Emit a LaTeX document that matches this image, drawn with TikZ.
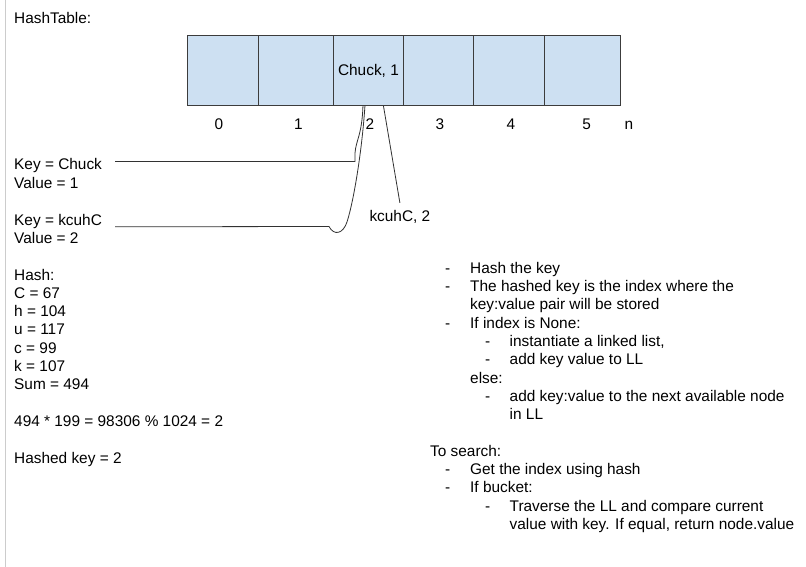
\documentclass[tikz,border=0pt]{standalone}
\usepackage{fontspec}
\setmainfont{Liberation Sans}
\definecolor{cellfill}{RGB}{205,224,242}
\definecolor{cellline}{RGB}{60,60,60}
\definecolor{linkcol}{RGB}{50,50,50}
\begin{document}
\begin{tikzpicture}[x=1pt,y=-1pt,
  every node/.style={font=\fontsize{15.4}{18.4}\selectfont, inner sep=0pt},
  txt/.style={anchor=base west},
  ctr/.style={anchor=base},
  cell/.style={draw=cellline, fill=cellfill, minimum height=70pt, anchor=north west, line width=0.9pt},
  link/.style={draw=linkcol, line width=0.8pt}]
\useasboundingbox (0,0) rectangle (806,567);
\fill[white] (0,0) rectangle (806,567);
\draw[gray!40, line width=1pt] (5.5,0) -- (5.5,567);

% title
\node[txt] (title) at (14,24) {HashTable:};

% table cells
\node[cell, minimum width=71pt] (c0) at (187,35) {};
\node[cell, minimum width=75pt] (c1) at (258,35) {};
\node[cell, minimum width=70pt] (c2) at (333,35) {Chuck, 1};
\node[cell, minimum width=70pt] (c3) at (403,35) {};
\node[cell, minimum width=71pt] (c4) at (473,35) {};
\node[cell, minimum width=76pt] (c5) at (544,35) {};

% indices
\node[ctr] (i0) at (219,130) {0};
\node[ctr] (i1) at (298.3,130) {1};
\node[ctr] (i2) at (370,130) {2};
\node[ctr] (i3) at (440,130) {3};
\node[ctr] (i4) at (511,130) {4};
\node[ctr] (i5) at (586.7,130) {5};
\node[ctr] (in) at (629,130) {n};

% key/value texts
\node[txt] (k1) at (14,170) {Key = Chuck};
\node[txt] (v1) at (14,188.3) {Value = 1};
\node[txt] (k2) at (14,225.2) {Key = kcuhC};
\node[txt] (v2) at (14,243.5) {Value = 2};
\node[txt] (lbl2) at (369.3,221.7) {kcuhC, 2};

% connectors
\coordinate (s1) at (115,161.5);
\coordinate (s2) at (115,226.8);
\draw[link] (s1) -- (355,161.5) -- (355,153) .. controls (356,140) and (362,135) .. ([xshift=-5.5pt]c2.south);
\draw[link] (s2) -- (329,226.5) .. controls (334,236) and (343,234) .. (347,222) .. controls (354,200) and (362,150) .. ([xshift=-3.5pt]c2.south);
\draw[link] ([xshift=15pt]c2.south) -- ([yshift=7.5pt]lbl2.north);

% hash block
\node[txt] (h0) at (14,280) {Hash:};
\node[txt] (h1) at (14,298.3) {C = 67};
\node[txt] (h2) at (14,316.6) {h = 104};
\node[txt] (h3) at (14,334.9) {u = 117};
\node[txt] (h4) at (14,353.2) {c = 99};
\node[txt] (h5) at (14,371.5) {k = 107};
\node[txt] (h6) at (14,389.8) {Sum = 494};
\node[txt] (h7) at (14,426.4) {494 * 199 = 98306 \% 1024 = 2};
\node[txt] (h8) at (14,463) {Hashed key = 2};

% right block
\node[txt] (d1) at (445,273.3) {-};
\node[txt] (r1) at (470,273.3) {Hash the key};
\node[txt] (d2) at (445,291.6) {-};
\node[txt] (r2) at (470,291.6) {The hashed key is the index where the};
\node[txt] (r3) at (470,309.9) {key:value pair will be stored};
\node[txt] (d3) at (445,328.2) {-};
\node[txt] (r4) at (470,328.2) {If index is None:};
\node[txt] (d4) at (485,346.5) {-};
\node[txt] (r5) at (509.5,346.5) {instantiate a linked list,};
\node[txt] (d5) at (485,364.8) {-};
\node[txt] (r6) at (509.5,364.8) {add key value to LL};
\node[txt] (r7) at (470,383.1) {else:};
\node[txt] (d6) at (485,401.4) {-};
\node[txt] (r8) at (509.5,401.4) {add key:value to the next available node};
\node[txt] (r9) at (509.5,419.7) {in LL};
\node[txt] (s0) at (430,456.3) {To search:};
\node[txt] (d7) at (445,474.6) {-};
\node[txt] (q1) at (470,474.6) {Get the index using hash};
\node[txt] (d8) at (445,492.9) {-};
\node[txt] (q2) at (470,492.9) {If bucket:};
\node[txt] (d9) at (485,511.2) {-};
\node[txt] (q3) at (509.5,511.2) {Traverse the LL and compare current};
\node[txt] (q4) at (509.5,529.5) {value with key. If equal, return node.value};
\end{tikzpicture}
\end{document}
